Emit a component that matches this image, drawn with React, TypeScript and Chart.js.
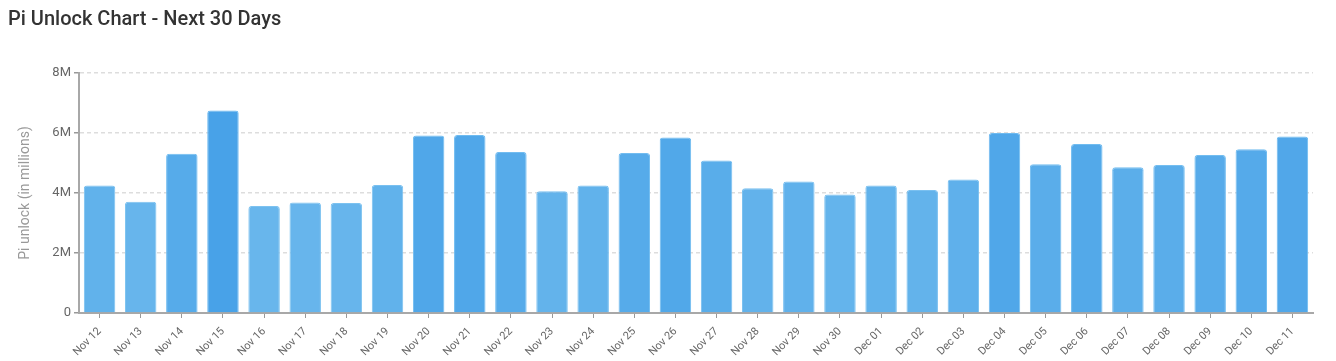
import React, { useEffect, useRef } from "react";
import { Chart, registerables } from "chart.js";

Chart.register(...registerables);

const categories = [
  "Nov 12", "Nov 13", "Nov 14", "Nov 15", "Nov 16", "Nov 17", "Nov 18", "Nov 19", "Nov 20", "Nov 21",
  "Nov 22", "Nov 23", "Nov 24", "Nov 25", "Nov 26", "Nov 27", "Nov 28", "Nov 29", "Nov 30", "Dec 01",
  "Dec 02", "Dec 03", "Dec 04", "Dec 05", "Dec 06", "Dec 07", "Dec 08", "Dec 09", "Dec 10", "Dec 11",
];

const unlockMillions = [
  4.25, 3.71, 5.31, 6.75, 3.57, 3.68, 3.67, 4.27, 5.92, 5.93,
  5.37, 4.06, 4.25, 5.33, 5.85, 5.08, 4.16, 4.38, 3.95, 4.25,
  4.10, 4.45, 6.0, 4.96, 5.63, 4.86, 4.93, 5.27, 5.46, 5.88,
];

const yTicks = [0, 2, 4, 6, 8];
const chartTitle = "Pi Unlock Chart - Next 30 Days";
const yAxisTitle = "Pi unlock (in millions)";

const FONT = "Roboto, 'Noto Sans', sans-serif";

function shade(v: number, min: number, max: number, alpha = 1) {
  const t = (v - min) / (max - min);
  const light = [104, 182, 236];
  const dark = [72, 162, 232];
  const c = light.map((l, i) => Math.round(l + (dark[i] - l) * t));
  return `rgba(${c[0]},${c[1]},${c[2]},${alpha})`;
}

export default function App() {
  const ref = useRef<HTMLCanvasElement | null>(null);

  useEffect(() => {
    if (!ref.current) return;
    const values = unlockMillions.map((v) => v * 1e6);
    const min = Math.min(...unlockMillions);
    const max = Math.max(...unlockMillions);
    const colors = unlockMillions.map((v) => shade(v, min, max));
    const borders = unlockMillions.map((v) => {
      const t = (v - min) / (max - min);
      return `rgba(${Math.round(125 - 20 * t)},${Math.round(194 - 10 * t)},${240},1)`;
    });
    const chart = new Chart(ref.current, {
      type: "bar",
      data: {
        labels: categories,
        datasets: [
          {
            data: values,
            backgroundColor: colors,
            borderColor: borders,
            borderWidth: 1,
            borderRadius: 3,
            borderSkipped: "bottom",
            barPercentage: 0.9,
            categoryPercentage: 0.85,
          },
        ],
      },
      options: {
        animation: false,
        responsive: false,
        maintainAspectRatio: false,
        layout: { padding: { top: 65, right: 15, left: 0, bottom: 0 } },
        plugins: {
          legend: { display: false },
          tooltip: { enabled: false },
          title: { display: false },
        },
        scales: {
          x: {
            type: "category",
            offset: true,
            grid: {
              display: true,
              offset: false,
              drawOnChartArea: false,
              drawTicks: true,
              tickLength: 5,
              tickColor: "#999999",
            },
            border: { display: true, color: "#a8a8a8", width: 2 },
            ticks: {
              color: "#666666",
              font: { family: FONT, size: 11 },
              maxRotation: 45,
              minRotation: 45,
              autoSkip: false,
              padding: 7,
            },
            afterFit: (scale: any) => {
              scale.height = 48;
            },
          },
          y: {
            min: 0,
            max: 8e6,
            afterBuildTicks: (scale: any) => {
              scale.ticks = yTicks.map((v) => ({ value: v * 1e6 }));
            },
            grid: {
              color: (ctx: any) => (ctx.tick && ctx.tick.value === 0 ? "rgba(0,0,0,0)" : "#dddddd"),
              lineWidth: 1.5,
              drawTicks: true,
              tickLength: 5,
              tickColor: "#999999",
              tickBorderDash: [],
            },
            border: { display: true, color: "#a8a8a8", width: 2, dash: [4, 3] },
            ticks: {
              color: "#666666",
              font: { family: FONT, size: 13 },
              padding: 3,
              callback: (v: any) => (Number(v) === 0 ? "0" : `${Number(v) / 1e6}M`),
            },
            title: {
              display: true,
              text: yAxisTitle,
              color: "#999999",
              font: { family: FONT, size: 14 },
              padding: { top: 9, bottom: 6 },
            },
            afterFit: (scale: any) => {
              scale.width = 71;
            },
          },
        },
      },
    });
    return () => chart.destroy();
  }, []);

  return (
    <div style={{ position: "relative", width: 1320, height: 353 }}>
      <canvas ref={ref} width={1320} height={353} style={{ position: "absolute", left: 0, top: 0 }} />
      <div
        style={{
          position: "absolute",
          left: 0,
          top: -1,
          fontFamily: FONT,
          fontSize: 20,
          fontWeight: 500,
          color: "#333333",
          lineHeight: "22px",
        }}
      >
        {chartTitle}
      </div>
    </div>
  );
}
